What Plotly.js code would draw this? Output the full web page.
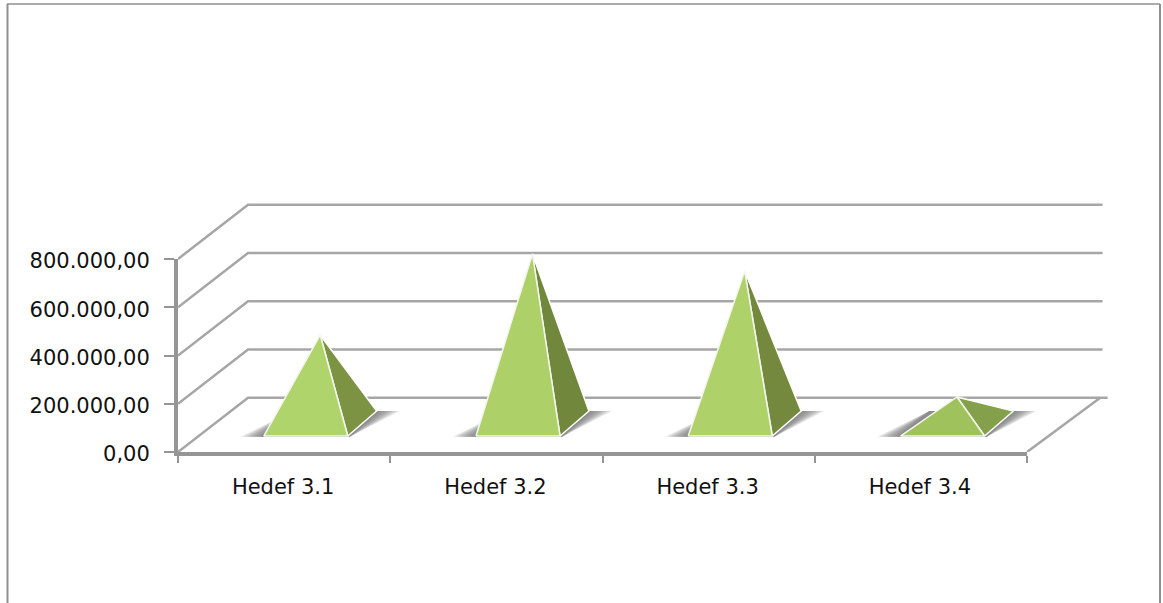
<!DOCTYPE html>
<html>
<head>
<meta charset="utf-8">
<script src="https://cdn.plot.ly/plotly-3.0.1.min.js"></script>
<style>html,body{margin:0;padding:0;background:#fff}#chart{width:1163px;height:603px}</style>
</head>
<body>
<div id="chart"></div>
<script>
const categories = ['Hedef 3.1', 'Hedef 3.2', 'Hedef 3.3', 'Hedef 3.4'];
const values = [367000, 703000, 632000, 110000];
const yTicks = [0, 200000, 400000, 600000, 800000];
const frontColors = ['#b0d46c', '#aed068', '#afd16a', '#a0c25c'];
const sideColors = ['#7b9343', '#71873c', '#74893e', '#84a04b'];
const shadowSpread = [0.11, 0.1, 0.09, 0.08, 0.07, 0.06, 0.05, 0.04, 0.03, 0.02, 0.01];

// projection of the 3-D box onto the 2-D axes (category units / value units)
const DX = 0.33, DY = 225000, BACK_END = 4 + 0.356, FLOOR_END = 4 + 0.38;
const FL = -0.096, FR = 0.30, BR = 0.436, AX = 0.17;
const Y_FRONT = 66300, Y_BACK = 170000, Y_APEX = 118000;

const W = 1163, H = 603;
const L = 178, R = 1027, B = 452, T = 259;          // front plane of the chart
const R2 = 1120, T2 = 195;                          // wider frame that also holds the 3-D depth
const x2Max = 4 * (R2 - L) / (R - L);
const y2Max = 800000 * (B - T2) / (B - T);

const gridColor = '#a6a6a6', axisColor = '#959595';
// invisible trace keeps the visible front axes alive
const traces = [{type: 'scatter', mode: 'none', x: [0, 4], y: [0, 800000], hoverinfo: 'skip', showlegend: false}];
const line = (x, y, color, width) => traces.push({
  type: 'scatter', mode: 'lines', x, y, xaxis: 'x2', yaxis: 'y2', hoverinfo: 'skip', showlegend: false,
  line: {color, width}
});
const poly = (x, y, fill, lineColor, width) => traces.push({
  type: 'scatter', mode: 'lines', x, y, xaxis: 'x2', yaxis: 'y2', fill: 'toself', fillcolor: fill,
  hoverinfo: 'skip', showlegend: false, line: {color: lineColor, width: width}
});

// back wall and left wall gridlines
yTicks.forEach(v => {
  const end = v === 0 ? FLOOR_END : BACK_END;
  line([0, DX, end], [v, v + DY, v + DY], gridColor, 2.5);
});
// right floor edge
line([4, 4 + DX + 0.015], [0, DY], gridColor, 2.5);

categories.forEach((c, i) => {
  const cx = i + 0.5;
  const v = values[i];
  // soft floor shadow: stacked widening wedges at the front-left and back-right corners
  shadowSpread.forEach(w => {
    poly([cx + FL - w, cx + FR + 0.01, cx + BR + w, cx + FL + (BR - FR), cx + FL - w],
         [Y_FRONT - 3500, Y_FRONT - 3500, Y_BACK, Y_BACK, Y_FRONT - 3500],
         'rgba(105,105,105,0.12)', 'rgba(0,0,0,0)', 0);
  });
  // side face
  poly([cx + FR, cx + BR, cx + AX, cx + FR], [Y_FRONT, Y_BACK, Y_APEX + v, Y_FRONT],
       sideColors[i], '#ffffff', 1.5);
  // front face
  poly([cx + FL, cx + FR, cx + AX, cx + FL], [Y_FRONT, Y_FRONT, Y_APEX + v, Y_FRONT],
       frontColors[i], '#f4f6ee', 1.5);
});

const font = {family: '"DejaVu Sans", sans-serif', size: 21, color: '#111111'};
const layout = {
  width: W, height: H,
  margin: {l: 0, r: 0, t: 0, b: 0, pad: 0},
  paper_bgcolor: '#ffffff', plot_bgcolor: 'rgba(0,0,0,0)',
  showlegend: false,
  separators: ',.',
  font,
  xaxis: {
    domain: [L / W, R / W], range: [0, 4], fixedrange: true,
    showgrid: false, zeroline: false,
    showline: true, linecolor: axisColor, linewidth: 4,
    tickmode: 'array', tickvals: categories.map((_, i) => i + 0.5), ticktext: categories,
    ticks: 'outside', ticklen: 13, tickcolor: 'rgba(0,0,0,0)', tickfont: font,
    ticklabelshift: -1,
    minor: {tickmode: 'array', tickvals: [0, 1, 2, 3, 4], ticks: 'outside', ticklen: 7, tickwidth: 2, tickcolor: axisColor, showgrid: false}
  },
  yaxis: {
    domain: [(H - B) / H, (H - T) / H], range: [0, 800000], fixedrange: true,
    showgrid: false, zeroline: false,
    showline: true, linecolor: axisColor, linewidth: 4,
    tickmode: 'array', tickvals: yTicks, tickformat: ',.2f',
    ticks: 'outside', ticklen: 10, tickwidth: 2, tickcolor: axisColor, tickfont: font,
    ticklabelstandoff: 10, ticklabelshift: 2
  },
  xaxis2: {
    domain: [L / W, R2 / W], range: [0, x2Max], fixedrange: true, anchor: 'y2',
    visible: false
  },
  yaxis2: {
    domain: [(H - B) / H, (H - T2) / H], range: [0, y2Max], fixedrange: true, anchor: 'x2',
    visible: false
  },
  shapes: [
    {type: 'line', xref: 'paper', yref: 'paper', x0: 7.5 / W, x1: 7.5 / W, y0: 0, y1: 1 - 4 / H, line: {color: '#8f8f8f', width: 2}},
    {type: 'line', xref: 'paper', yref: 'paper', x0: 7 / W, x1: 1160 / W, y0: 1 - 4 / H, y1: 1 - 4 / H, line: {color: '#8f8f8f', width: 1.5}},
    {type: 'line', xref: 'paper', yref: 'paper', x0: 1160 / W, x1: 1160 / W, y0: 0, y1: 1 - 4 / H, line: {color: '#8f8f8f', width: 2}}
  ]
};
Plotly.newPlot('chart', traces, layout, {displayModeBar: false, responsive: false});
</script>
</body>
</html>
